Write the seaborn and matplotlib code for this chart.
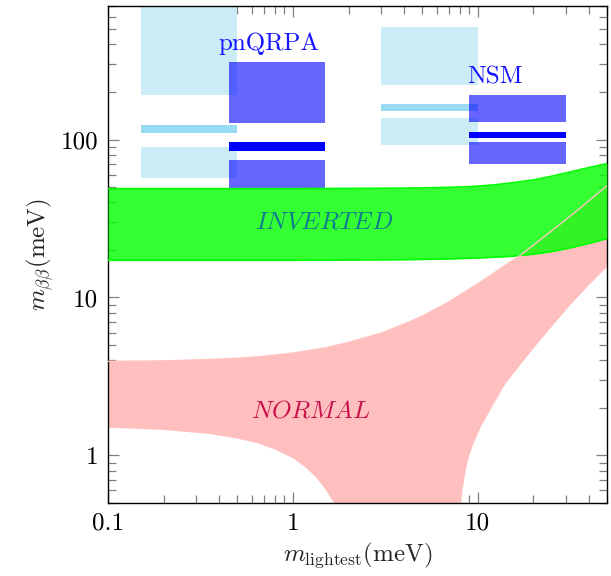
import numpy as np
import matplotlib
matplotlib.use("Agg")
import matplotlib.pyplot as plt
import seaborn as sns
from matplotlib.ticker import NullFormatter, FixedLocator, LogLocator

# inverted hierarchy band (meV)
inv_x = [0.1, 1, 3, 5, 7, 9, 12, 15, 20, 25, 31, 40, 50]
inv_hi = [48.9, 48.9, 49.1, 49.4, 49.8, 50.3, 51.5, 53.0, 55.5, 58.5, 62.0, 66.5, 70.3]
inv_lo = [17.2, 17.2, 17.3, 17.4, 17.55, 17.7, 17.95, 18.2, 18.8, 19.5, 20.5, 22.0, 23.6]

# normal hierarchy band (meV)
nor_hi_x = [0.1, 0.2, 0.35, 0.5, 0.7, 1, 1.5, 2, 3, 4, 5, 7, 10, 13, 17, 25, 35, 50]
nor_hi = [3.94, 3.97, 4.05, 4.12, 4.25, 4.45, 4.8, 5.2, 5.95, 6.8, 7.6, 9.4, 12.2, 15.0, 18.5, 26.3, 36.0, 51.0]
nor_lo_x = [0.1, 0.2, 0.35, 0.5, 0.65, 0.8, 1.0, 1.17, 1.33, 1.5, 1.67, 1.8,
            7.95, 8.1, 8.3, 8.6, 9, 9.5, 10.5, 12, 14, 17, 20, 25, 32.6, 40, 50]
nor_lo = [1.50, 1.45, 1.37, 1.28, 1.19, 1.09, 0.96, 0.84, 0.73, 0.61, 0.5, 0.4,
          0.4, 0.5, 0.62, 0.8, 1.0, 1.2, 1.55, 2.05, 2.8, 3.75, 4.75, 6.5, 9.3, 12.0, 15.6]

# nuclear matrix element ranges: x span, then (low, high) for upper box, central bar, lower box
qrpa_light_x = [0.15, 0.5]
qrpa_light = [(191, 800), (110, 124), (57, 89)]
qrpa_dark_x = [0.45, 1.5]
qrpa_dark = [(127, 310), (85, 97), (49, 74)]
nsm_light_x = [3, 10]
nsm_light = [(222, 516), (152, 168), (92, 136)]
nsm_dark_x = [9, 30]
nsm_dark = [(128.5, 192), (102, 112), (70, 96)]

sns.set_theme(style="ticks")
plt.rcParams["font.family"] = ["cmr10", "DejaVu Serif"]
plt.rcParams["mathtext.fontset"] = "cm"
plt.rcParams["axes.formatter.use_mathtext"] = True
plt.rcParams["axes.unicode_minus"] = False

fig = plt.figure(figsize=(6.11, 5.76), dpi=100)
ax = fig.add_axes([108 / 611, 1 - 503 / 576, 499 / 611, 497 / 576])
ax.set_xscale("log")
ax.set_yscale("log")

light = "#ccedf8"
light_bar = "#99dbf5"
for xs, boxes in [(qrpa_light_x, qrpa_light), (nsm_light_x, nsm_light)]:
    for i, (lo, hi) in enumerate(boxes):
        ax.fill_between(xs, lo, hi, color=light_bar if i == 1 else light, lw=0, zorder=2)
for xs, boxes in [(qrpa_dark_x, qrpa_dark), (nsm_dark_x, nsm_dark)]:
    for i, (lo, hi) in enumerate(boxes):
        if i == 1:
            ax.fill_between(xs, lo, hi, color="#0000ff", lw=0, zorder=3)
        else:
            ax.fill_between(xs, lo, hi, color="#0000ff", alpha=0.6, lw=0, zorder=3)

# normal band polygon
ax.fill(nor_hi_x + nor_lo_x[::-1], nor_hi + nor_lo[::-1], color="#ffbfbf", lw=0, zorder=1)

# inverted band
ax.fill_between(inv_x, inv_lo, inv_hi, color="#00ff00", alpha=0.8, lw=0, zorder=4)
sns.lineplot(x=inv_x, y=inv_hi, color="#00ff00", lw=1.2, ax=ax, zorder=5)
sns.lineplot(x=inv_x, y=inv_lo, color="#00ff00", lw=1.2, ax=ax, zorder=5)
sns.lineplot(x=nor_hi_x, y=nor_hi, color="#ffc4c0", lw=1.0, ax=ax, zorder=5)

fs = 18
ax.text(0.743, 368, "pnQRPA", color="#1414ff", fontsize=fs, ha="center", va="baseline", zorder=6)
ax.text(12.4, 226.5, "NSM", color="#1414ff", fontsize=fs, ha="center", va="baseline", zorder=6)
ax.text(1.47, 27.3, r"$INVERTED$", color="#0f7a8c", fontsize=fs, ha="center", va="baseline", zorder=6)
ax.text(1.25, 1.74, r"$NORMAL$", color="#c8104a", fontsize=fs, ha="center", va="baseline", zorder=6)

ax.set_xlim(0.1, 50)
ax.set_ylim(0.5, 700)

ax.xaxis.set_major_locator(FixedLocator([0.1, 1, 10]))
ax.set_xticklabels(["0.1", "1", "10"])
ax.yaxis.set_major_locator(FixedLocator([1, 10, 100]))
ax.set_yticklabels(["1", "10", "100"])
ax.xaxis.set_minor_locator(LogLocator(base=10, subs=np.arange(2, 10)))
ax.yaxis.set_minor_locator(LogLocator(base=10, subs=np.arange(2, 10)))
ax.xaxis.set_minor_formatter(NullFormatter())
ax.yaxis.set_minor_formatter(NullFormatter())
ax.tick_params(which="both", direction="in", top=True, right=True, color="#808080",
               width=0.9, labelsize=fs, labelcolor="black")
ax.tick_params(which="major", length=8, pad=7)
ax.tick_params(which="minor", length=5.5)
for s in ax.spines.values():
    s.set_color("black")
    s.set_linewidth(1.0)

ax.set_xlabel(r"$m_{\mathrm{lightest}}(\mathrm{meV})$", fontsize=fs, labelpad=4)
ax.set_ylabel(r"$m_{\beta\beta}(\mathrm{meV})$", fontsize=fs, labelpad=4)

fig.savefig("out.png", dpi=100)
